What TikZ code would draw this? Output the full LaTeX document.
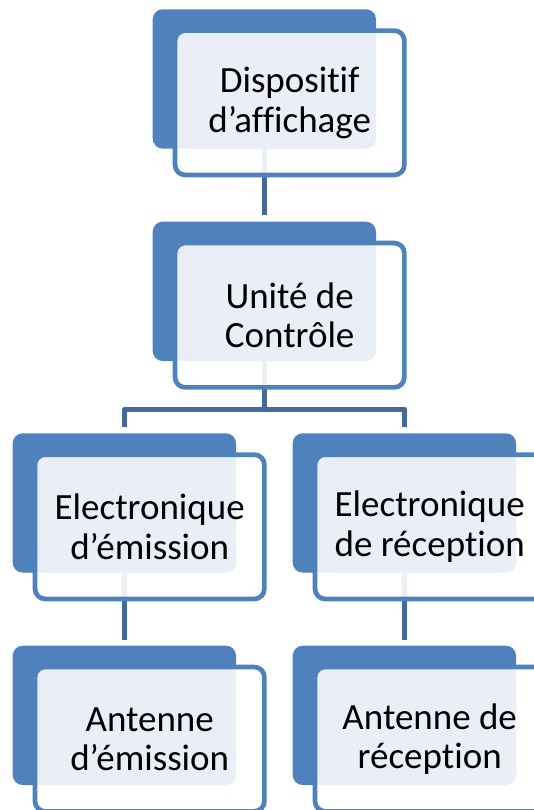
\documentclass[tikz,border=0pt]{standalone}
\usepackage{fontspec}
\setmainfont{Carlito}[Ligatures=NoCommon]
\definecolor{accent}{HTML}{4F81BD}
\definecolor{lightfill}{HTML}{EAEFF7}
\definecolor{connc}{HTML}{45699C}
\tikzset{
  darkbox/.style={rectangle, rounded corners=10pt, fill=accent, draw=none,
    minimum width=223.3pt, minimum height=139.3pt, inner sep=0pt, outer sep=0pt},
  frontbox/.style={rectangle, rounded corners=10pt, fill=white, fill opacity=0.9, draw=none,
    minimum width=229.3pt, minimum height=144.3pt, inner sep=0pt, outer sep=0pt},
  frontline/.style={draw=accent, line width=4.7pt, rounded corners=10pt},
  lightpart/.style={fill=lightfill, rounded corners=10pt},
  conn/.style={draw=connc, line width=5pt, line join=round},
  label/.style={align=center, inner sep=0pt, text=black,
    font=\fontsize{37pt}{39.5pt}\selectfont}
}
\begin{document}
\begin{tikzpicture}[x=1pt,y=-1pt]
\useasboundingbox (0,0) rectangle (534,810);
\clip (0,0) rectangle (534,810);
% dark back shapes (center = left+111.65, top+69.65)
\node[darkbox] (d1) at (264.35,78.95) {};
\node[darkbox] (d2) at (264.35,291.35) {};
\node[darkbox] (d3) at (124.35,502.95) {};
\node[darkbox] (d4) at (404.35,502.95) {};
\node[darkbox] (d5) at (124.35,715.35) {};
\node[darkbox] (d6) at (404.35,715.35) {};
% connectors
\coordinate (br) at (264.35,409.3);
\draw[conn] (d1.south) -- ([yshift=6.5pt]d2.north);
\draw[conn] (d2.south) -- (br);
\draw[conn] (br) -| ([yshift=6.5pt]d3.north);
\draw[conn] (br) -| ([yshift=6.5pt]d4.north);
\draw[conn] (d3.south) -- ([yshift=6pt]d5.north);
\draw[conn] (d4.south) -- ([yshift=6pt]d6.north);
% front shapes (center = left+137, top+93.5)
\node[frontbox] (f1) at (289.7,102.8) {};
\node[frontbox] (f2) at (289.7,315.2) {};
\node[frontbox] (f3) at (149.7,526.8) {};
\node[frontbox] (f4) at (429.7,526.8) {};
\node[frontbox] (f5) at (149.7,739.2) {};
\node[frontbox] (f6) at (429.7,739.2) {};
\foreach \i in {1,...,6}{
  \fill[lightpart] (f\i.north west) rectangle (d\i.south east);
  \draw[frontline] (f\i.north west) rectangle (f\i.south east);
}
% texts
\node[label] (t1) at (f1.center) {Dispositif\\d’affichage};
\node[label] (t2) at (f2.center) {Unité de\\Contrôle};
\node[label] (t3) at (f3.center) {Electronique\\d’émission};
\node[label] (t4) at (f4.center) {Electronique\\de réception};
\node[label] (t5) at (f5.center) {Antenne\\d’émission};
\node[label] (t6) at (f6.center) {Antenne de\\réception};
\end{tikzpicture}
\end{document}
